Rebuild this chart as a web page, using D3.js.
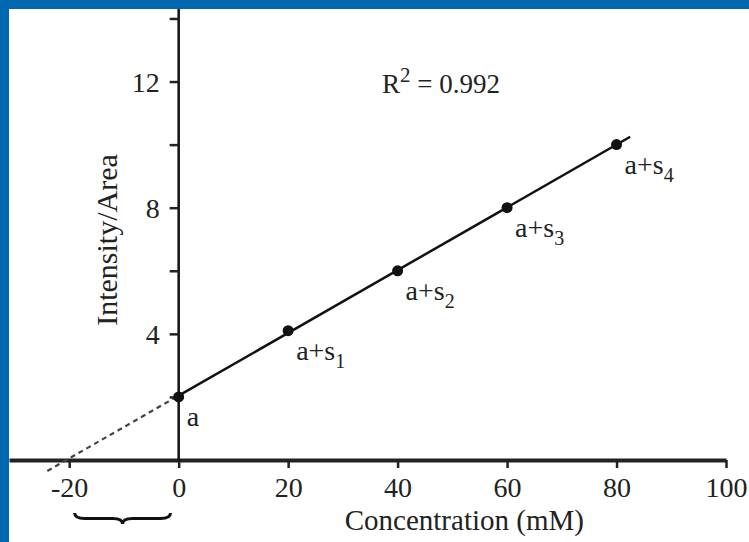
<!DOCTYPE html>
<html>
<head>
<meta charset="utf-8">
<script src="https://cdn.jsdelivr.net/npm/d3@7"></script>
<style>
  body { margin: 0; background: #fff; }
  svg text { font-family: "Liberation Serif", "Times New Roman", serif; fill: #222; }
</style>
</head>
<body>
<div id="chart"></div>
<script>
// data
var concentration = [0, 20, 40, 60, 80];
var intensity = [2.0, 4.1, 6.0, 8.0, 10.0];
var pointNames = ["", "1", "2", "3", "4"];
var xTicks = [-20, 0, 20, 40, 60, 80, 100];
var yTicks = [2, 4, 6, 8, 10, 12, 14];
var yLabelled = [4, 8, 12];
var rSquared = "0.992";
var solidRange = [0, 82.5];
var dashedRange = [-24, 0];

var width = 749, height = 542;
var border = 9;

var x = d3.scaleLinear()
    .domain([-31, 100])
    .range([border, 726]);

var y = d3.scaleLinear()
    .domain([0, 14.3])
    .range([460, border]);

var svg = d3.select("#chart")
    .append("svg")
    .attr("width", width)
    .attr("height", height);

svg.append("rect").attr("width", width).attr("height", height).attr("fill", "#fff");

// blue frame on top and left
svg.append("rect").attr("x", 0).attr("y", 0).attr("width", width).attr("height", border).attr("fill", "#0067b0");
svg.append("rect").attr("x", 0).attr("y", 0).attr("width", border).attr("height", height).attr("fill", "#0067b0");

// least squares fit from the points
var mx = d3.mean(concentration), my = d3.mean(intensity);
var sxy = d3.sum(concentration, (c, i) => (c - mx) * (intensity[i] - my));
var sxx = d3.sum(concentration, c => (c - mx) * (c - mx));
var slope = sxy / sxx;
var intercept = my - slope * mx;

var fitLine = d3.line()
    .x(d => x(d))
    .y(d => y(intercept + slope * d));

//axes
var xAxis = svg.append("g")
    .attr("transform", "translate(0," + y(0) + ")")
    .call(d3.axisBottom(x).tickValues(xTicks).tickSize(8).tickSizeOuter(0)
        .tickFormat(d => String(d)));
xAxis.select(".domain").attr("stroke", "#222").attr("stroke-width", 4);
xAxis.selectAll(".tick line").attr("stroke", "#222").attr("stroke-width", 2.5);
xAxis.selectAll(".tick text")
    .attr("y", 37)
    .attr("dy", 0)
    .style("font-size", "28px")
    .attr("fill", "#222");

var yAxis = svg.append("g")
    .attr("transform", "translate(" + x(0) + ",0)")
    .call(d3.axisLeft(y).tickValues(yTicks).tickSize(9).tickSizeOuter(0)
        .tickFormat(d => yLabelled.indexOf(d) >= 0 ? d : ""));
yAxis.select(".domain").attr("stroke", "#111").attr("stroke-width", 2.5)
    .attr("d", "M0," + y(0) + "V" + border);
yAxis.selectAll(".tick line").attr("stroke", "#222").attr("stroke-width", 2.5);
yAxis.selectAll(".tick text")
    .attr("x", -19)
    .attr("dy", "0.34em")
    .style("font-size", "28px")
    .attr("fill", "#333");

// axis titles
svg.append("text")
    .attr("x", (x(0) + x(100)) / 2 + 12)
    .attr("y", 530)
    .style("text-anchor", "middle")
    .style("font-size", "29px")
    .text("Concentration (mM)");

svg.append("text")
    .attr("transform", "translate(117,240) rotate(-90)")
    .style("text-anchor", "middle")
    .style("font-size", "30px")
    .text("Intensity/Area");

// fit lines
svg.append("path")
    .datum(dashedRange)
    .attr("d", fitLine)
    .attr("fill", "none")
    .attr("stroke", "#444")
    .attr("stroke-width", 2.2)
    .attr("stroke-dasharray", "5,4");

svg.append("path")
    .datum(solidRange)
    .attr("d", fitLine)
    .attr("fill", "none")
    .attr("stroke", "#111")
    .attr("stroke-width", 2.5);

// points
svg.append("g")
    .selectAll("circle")
    .data(concentration)
    .enter()
    .append("circle")
    .attr("cx", d => x(d))
    .attr("cy", (d, i) => y(intensity[i]))
    .attr("r", 5.5)
    .attr("fill", "#111");

// point labels
var labels = svg.append("g")
    .selectAll("text")
    .data(concentration)
    .enter()
    .append("text")
    .attr("x", d => x(d) + 8)
    .attr("y", (d, i) => y(intensity[i]) + 29)
    .style("font-size", "28px");
labels.append("tspan").text((d, i) => pointNames[i] === "" ? "a" : "a+s");
labels.append("tspan")
    .attr("dy", 8)
    .style("font-size", "20px")
    .text((d, i) => pointNames[i]);

// R squared
var r2 = svg.append("text")
    .attr("x", 382)
    .attr("y", 93)
    .style("font-size", "27px");
r2.append("tspan").text("R");
r2.append("tspan").attr("dy", -11).style("font-size", "21px").text("2");
r2.append("tspan").attr("dy", 11).text(" = " + rSquared);

// brace under the negative side
var bx0 = x(-19), bx1 = x(-1.5), bm = (bx0 + bx1) / 2, by = 513, bh = 11;
svg.append("path")
    .attr("d", "M" + bx0 + "," + by +
        "Q" + bx0 + "," + (by + bh / 2) + " " + (bx0 + 10) + "," + (by + bh / 2) +
        "L" + (bm - 10) + "," + (by + bh / 2) +
        "Q" + bm + "," + (by + bh / 2) + " " + bm + "," + (by + bh) +
        "Q" + bm + "," + (by + bh / 2) + " " + (bm + 10) + "," + (by + bh / 2) +
        "L" + (bx1 - 10) + "," + (by + bh / 2) +
        "Q" + bx1 + "," + (by + bh / 2) + " " + bx1 + "," + by)
    .attr("fill", "none")
    .attr("stroke", "#111")
    .attr("stroke-width", 3);
</script>
</body>
</html>
